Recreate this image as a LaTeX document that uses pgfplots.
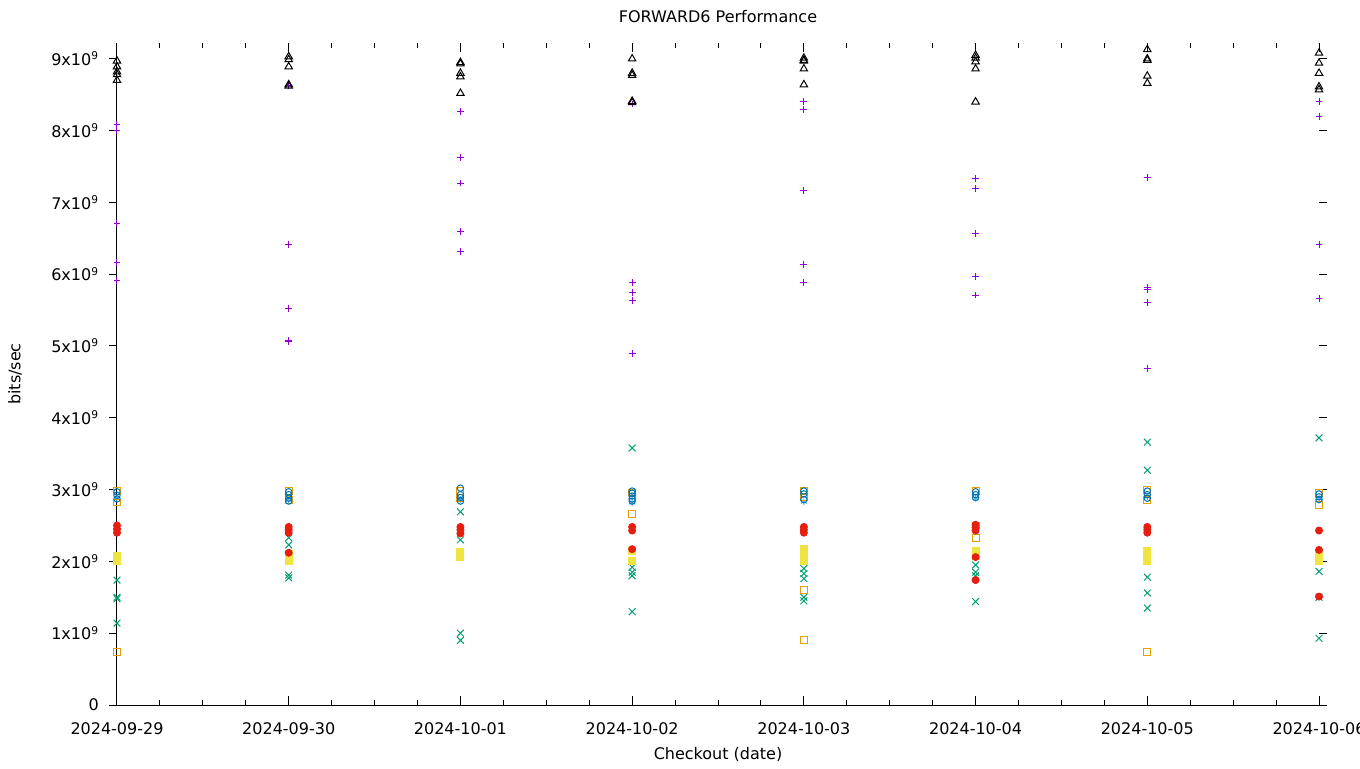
\documentclass[border=0pt]{standalone}
\usepackage{fontspec}
\setmainfont{DejaVu Sans}
\usepackage{pgfplots}
\pgfplotsset{compat=1.18}

\definecolor{gpPurple}{HTML}{9400D3}
\definecolor{gpGreen}{HTML}{009E73}
\definecolor{gpSky}{HTML}{56B4E9}
\definecolor{gpOrange}{HTML}{E69F00}
\definecolor{gpYellow}{HTML}{F0E442}
\definecolor{gpBlue}{HTML}{0072B2}
\definecolor{gpRed}{HTML}{E51E10}

\pgfplotsset{
  gpframe/.style={
    at={(87.75pt,47.25pt)}, anchor=south west,
    scale only axis, width=901.5pt, height=496.5pt,
    xmin=0, xmax=7, ymin=0, ymax=9.22,
    axis line style={draw=none},
    every tick/.style={black, line width=0.75pt},
  },
}

\begin{document}
\begin{tikzpicture}
\useasboundingbox (0,0) rectangle (1020pt,576pt);

% mirror ticks on y (outside, left and right)
\begin{axis}[gpframe,
  hide x axis,
  tick align=outside,
  major tick length=6pt,
  ytick={0,1,...,9}, yticklabels={},
  ytick pos=both,
]
\end{axis}

\begin{axis}[gpframe,
  clip=false,
  tick align=inside,
  major tick length=6.75pt, minor tick length=3.5pt,
  xtick={0,1,...,7},
  xticklabels={2024-09-29,2024-09-30,2024-10-01,2024-10-02,2024-10-03,2024-10-04,2024-10-05,2024-10-06},
  minor x tick num=3,
  xtick pos=both, xticklabel pos=bottom,
  ytick={0,1,...,9},
  yticklabels={0,1x10\textsuperscript{9},2x10\textsuperscript{9},3x10\textsuperscript{9},4x10\textsuperscript{9},5x10\textsuperscript{9},6x10\textsuperscript{9},7x10\textsuperscript{9},8x10\textsuperscript{9},9x10\textsuperscript{9}},
  ytick pos=left,
  ytick style={draw=none},
  every tick label/.append style={font=\fontsize{12}{14}\selectfont, inner sep=0pt},
  xticklabel style={anchor=base, yshift=-21.75pt},
  yticklabel style={anchor=east, xshift=-13.5pt},
  title={FORWARD6 Performance},
  title style={font=\fontsize{12}{14}\selectfont, at={(axis description cs:0.5,1)}, anchor=center, yshift=13.5pt},
  xlabel={Checkout (date)},
  xlabel style={font=\fontsize{12}{14}\selectfont, at={(axis description cs:0.5,0)}, anchor=center, yshift=-36.75pt},
  ylabel={bits/sec},
  ylabel style={font=\fontsize{12}{14}\selectfont, at={(axis description cs:0,0.5)}, anchor=center, yshift=76.5pt},
  every axis plot/.append style={only marks, line width=0.75pt},
]

% purple +
\addplot[gpPurple, mark=+, mark size=2.6pt] coordinates {
  (0,8.09) (0,8.00) (0,6.71) (0,6.16) (0,5.91)
  (1,8.63) (1,6.41) (1,5.52) (1,5.08) (1,5.06)
  (2,8.27) (2,7.63) (2,7.27) (2,6.60) (2,6.32)
  (3,8.37) (3,5.88) (3,5.75) (3,5.63) (3,4.89)
  (4,8.40) (4,8.30) (4,7.17) (4,6.14) (4,5.89)
  (5,7.33) (5,7.19) (5,6.57) (5,5.97) (5,5.71)
  (6,7.35) (6,5.81) (6,5.78) (6,5.60) (6,4.69)
  (7,8.41) (7,8.20) (7,6.42) (7,5.66)
};

% green x
\addplot[gpGreen, mark=x, mark size=3.6pt] coordinates {
  (0,1.74) (0,1.50) (0,1.48) (0,1.14)
  (1,2.33) (1,2.23) (1,1.81) (1,1.77)
  (2,2.69) (2,2.30) (2,1.00) (2,0.90)
  (3,3.58) (3,1.92) (3,1.85) (3,1.80) (3,1.30)
  (4,1.90) (4,1.83) (4,1.76) (4,1.50) (4,1.45)
  (5,1.95) (5,1.85) (5,1.80) (5,1.44)
  (6,3.66) (6,3.27) (6,1.78) (6,1.56) (6,1.35)
  (7,3.72) (7,1.86) (7,1.50) (7,0.93)
};

% light blue *
\addplot[gpSky, mark=asterisk, mark size=2.6pt] coordinates {
  (0,2.88) (1,2.86) (2,2.86) (3,2.82) (4,2.83) (5,2.88) (6,2.90) (7,2.88)
};

% orange open square
\addplot[gpOrange, mark=square, mark size=2.6pt] coordinates {
  (0,2.98) (0,2.82) (0,0.74)
  (1,2.98) (1,2.85)
  (2,2.98) (2,2.88)
  (3,2.96) (3,2.66)
  (4,2.98) (4,2.90) (4,1.60) (4,0.90)
  (5,2.98) (5,2.50) (5,2.32)
  (6,2.99) (6,2.85) (6,0.74)
  (7,2.95) (7,2.78)
};

% yellow filled square
\addplot[gpYellow, mark=square*, mark size=2.6pt] coordinates {
  (0,2.07) (0,2.00)
  (1,2.10) (1,2.00)
  (2,2.13) (2,2.06)
  (3,2.15) (3,2.00)
  (4,2.18) (4,2.10) (4,2.00)
  (5,2.15) (5,2.08)
  (6,2.15) (6,2.07) (6,2.00)
  (7,2.10) (7,2.00)
};

% blue open circle
\addplot[gpBlue, mark=o, mark size=2.4pt] coordinates {
  (0,2.97) (0,2.92) (0,2.87)
  (1,2.97) (1,2.93) (1,2.88) (1,2.84)
  (2,3.02) (2,2.93) (2,2.89) (2,2.84)
  (3,2.98) (3,2.95) (3,2.91) (3,2.87) (3,2.84)
  (4,2.98) (4,2.94) (4,2.86)
  (5,2.97) (5,2.93) (5,2.89)
  (6,2.98) (6,2.93) (6,2.88)
  (7,2.94) (7,2.90) (7,2.86)
};

% red filled circle
\addplot[gpRed, mark=*, mark size=2.6pt] coordinates {
  (0,2.50) (0,2.45) (0,2.40)
  (1,2.48) (1,2.44) (1,2.40) (1,2.12)
  (2,2.48) (2,2.44) (2,2.39)
  (3,2.48) (3,2.43) (3,2.17)
  (4,2.48) (4,2.44) (4,2.40)
  (5,2.51) (5,2.47) (5,2.43) (5,2.06) (5,1.74)
  (6,2.48) (6,2.44) (6,2.40)
  (7,2.43) (7,2.16) (7,1.51)
};

% black open triangle
\addplot[black, mark=triangle, mark size=3.2pt] coordinates {
  (0,8.97) (0,8.89) (0,8.82) (0,8.78) (0,8.70)
  (1,9.03) (1,8.99) (1,8.89) (1,8.64) (1,8.62)
  (2,8.95) (2,8.93) (2,8.80) (2,8.75) (2,8.52)
  (3,9.00) (3,8.80) (3,8.77) (3,8.41) (3,8.39)
  (4,9.01) (4,8.98) (4,8.97) (4,8.86) (4,8.64)
  (5,9.05) (5,9.01) (5,8.96) (5,8.86) (5,8.40)
  (6,9.13) (6,9.00) (6,8.98) (6,8.76) (6,8.66)
  (7,9.08) (7,8.94) (7,8.80) (7,8.61) (7,8.57)
};

\draw[black, line width=0.75pt] (rel axis cs:0,1) -- (rel axis cs:0,0) -- (rel axis cs:1,0);
\end{axis}
\end{tikzpicture}
\end{document}
